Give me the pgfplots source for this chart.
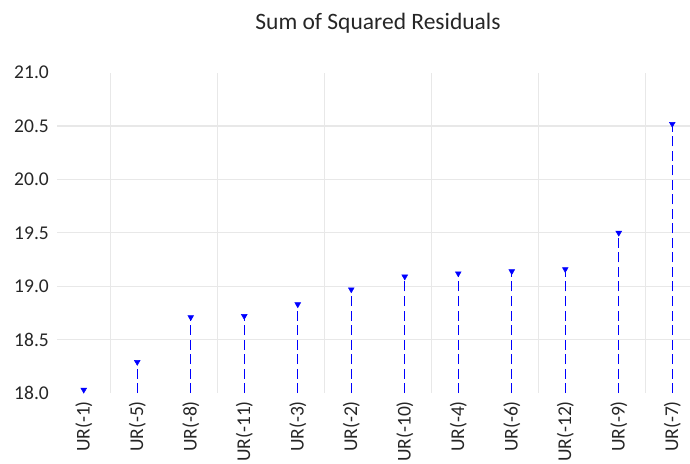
\documentclass[border=0pt]{standalone}
\usepackage{pgfplots}
\pgfplotsset{compat=1.18}
\usepackage{fontspec}
\setmainfont{Carlito}
\definecolor{gridgray}{RGB}{232,232,232}
\definecolor{stemblue}{RGB}{0,0,255}
\begin{document}
\begin{tikzpicture}[x=1pt,y=1pt]
\begin{axis}[
  at={(57pt,70pt)}, anchor=south west,
  width=642pt, height=320.3pt, scale only axis,
  xmin=-0.5, xmax=11.5, ymin=18, ymax=21,
  axis line style={draw=none},
  major tick length=0pt,
  xtick={0,...,11},
  xticklabels={UR(-1),UR(-5),UR(-8),UR(-11),UR(-3),UR(-2),UR(-10),UR(-4),UR(-6),UR(-12),UR(-9),UR(-7)},
  xticklabel style={rotate=90, anchor=east, font=\fontsize{19.5}{22}\selectfont, text=black!85, inner sep=0pt, xshift=-8pt},
  ytick={18,18.5,...,21},
  yticklabel style={font=\fontsize{19.5}{22}\selectfont, text=black!85, inner sep=0pt, xshift=-8pt, /pgf/number format/.cd, fixed, fixed zerofill, precision=1, assume math mode=true},
  extra x ticks={0.5,2.5,4.5,6.5,8.5,10.5},
  extra x tick labels={},
  extra x tick style={xmajorgrids=true, major grid style={gridgray, line width=1.2pt}},
  extra y ticks={18.5,19,19.5,20,20.5},
  extra y tick labels={},
  extra y tick style={ymajorgrids=true, major grid style={gridgray, line width=1.2pt}},
  clip=true,
]
\addplot[ycomb, draw=stemblue, line width=1.2pt, dash pattern=on 10pt off 4.5pt,
  mark=triangle*, mark size=3.3pt, mark options={solid, rotate=180, fill=stemblue, draw=stemblue, line width=0.5pt}]
  coordinates {
  (0,18.03) (1,18.29) (2,18.71) (3,18.72) (4,18.83) (5,18.97)
  (6,19.09) (7,19.12) (8,19.14) (9,19.16) (10,19.50) (11,20.52)
  };
\end{axis}
\node[anchor=base, font=\fontsize{23.5}{28}\selectfont, text=black!85] at (378,433.5) {Sum of Squared Residuals};
\pgfresetboundingbox
\path[use as bounding box] (0,0) rectangle (690,463);
\end{tikzpicture}
\end{document}
